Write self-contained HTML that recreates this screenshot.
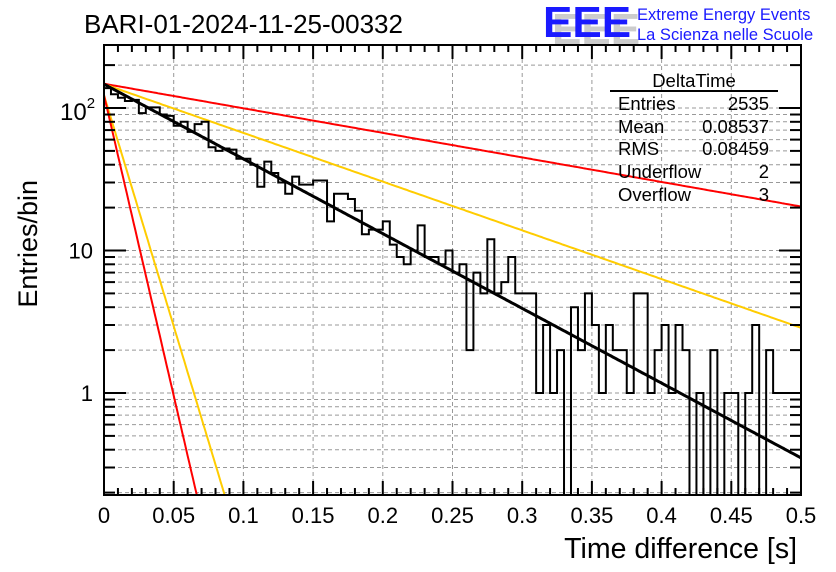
<!DOCTYPE html>
<html><head><meta charset="utf-8"><style>
body{margin:0;background:#fff;}
svg{display:block;font-family:"Liberation Sans",sans-serif;}
</style></head><body>
<svg id="c" width="836" height="572">
<text x="84" y="33" font-size="26">BARI-01-2024-11-25-00332</text>
<g>
<text x="548" y="41" font-size="44" fill="#ccc" font-weight="bold" transform="translate(4,3)">EEE</text>
<text x="543" y="37" font-size="44" fill="#1a1aff" font-weight="bold">EEE</text>
<text x="637" y="20" font-size="16.5" fill="#1a1aff">Extreme Energy Events</text>
<text x="637" y="40" font-size="16.5" fill="#1a1aff">La Scienza nelle Scuole</text>
</g>
<g id="grid"></g>
<g id="curves"></g>
<g id="ticks"></g>
<rect x="104" y="45" width="697" height="450" fill="none" stroke="#000" stroke-width="2"/>
<g font-size="18.5">
<text x="694" y="87" text-anchor="middle">DeltaTime</text>
<line x1="610" y1="91" x2="778" y2="91" stroke="#000" stroke-width="2"/>
<text x="618" y="110">Entries</text><text x="769" y="110" text-anchor="end">2535</text>
<text x="618" y="133">Mean</text><text x="769" y="133" text-anchor="end">0.08537</text>
<text x="618" y="155">RMS</text><text x="769" y="155" text-anchor="end">0.08459</text>
<text x="618" y="178">Underflow</text><text x="769" y="178" text-anchor="end">2</text>
<text x="618" y="201">Overflow</text><text x="769" y="201" text-anchor="end">3</text>
</g>
<text x="797" y="558" font-size="28.5" text-anchor="end">Time difference [s]</text>
<text transform="translate(37,180) rotate(-90)" font-size="27" text-anchor="end">Entries/bin</text>
</svg>
<script>
const counts=[138,125,118,112,114,92,101,101,90,88,75,80,68,77,80,53,50,52,51,44,44,40,28,42,35,30,25,33,29,29,31,31,16,25,
25,23,19,13,14,14,16,11,9,8,10,15,9,9,8,10,7,8,2,7,5,12,5,6,9,5,5,5,1,3,1,2,0,
4,2,5,3,1,3,2,2,1,5,5,1,2,3,1,3,2,0,1,0,2,0,1,1,0,1,3,0,2,1,1,1,1];
const fitAmps=[147,148,147,123,123];
const fitTaus=[0.0828,0.252,0.127,0.0103,0.0134];
const fitColors=['#000','#f00','#fc0','#f00','#fc0'];
const xTicks=[0,0.05,0.1,0.15,0.2,0.25,0.3,0.35,0.4,0.45,0.5];
const xTickLabels=['0','0.05','0.1','0.15','0.2','0.25','0.3','0.35','0.4','0.45','0.5'];
const X0=104,X1=801,Y0=45,Y1=495;
const xs=v=>X0+(v/0.5)*(X1-X0);
const ys=v=>v<=0?Y1+5:393-142.5*Math.log10(v);
const NS='http://www.w3.org/2000/svg';
const svg=document.getElementById('c');
function mk(t,a,p){const e=document.createElementNS(NS,t);for(const k in a)e.setAttribute(k,a[k]);(p||svg).appendChild(e);return e;}
const grid=document.getElementById('grid'),ticks=document.getElementById('ticks');
xTicks.forEach((t,i)=>{
 const x=xs(t);
 if(i>0&&i<xTicks.length-1){const l=mk('line',{x1:x,y1:Y0,x2:x,y2:Y1,stroke:'#999','stroke-dasharray':'4,3'},grid);
 }
 const tk=mk('line',{x1:x,y1:Y1,x2:x,y2:Y1-14,stroke:'#000','stroke-width':2},ticks);
 
 const tl=mk('text',{x:x,y:523,'font-size':22,'text-anchor':'middle'});tl.textContent=xTickLabels[i];
 
 if(i<xTicks.length-1)for(let m=1;m<5;m++){const xm=xs(t+m*0.01);
  mk('line',{x1:xm,y1:Y1,x2:xm,y2:Y1-7,stroke:'#000','stroke-width':2},ticks);
  mk('line',{x1:xm,y1:Y0,x2:xm,y2:Y0+7,stroke:'#000','stroke-width':2},ticks);}
 mk('line',{x1:x,y1:Y0,x2:x,y2:Y0+14,stroke:'#000','stroke-width':2},ticks);
});
for(let d=-1;d<=2;d++)for(let m=1;m<10;m++){
 const v=m*Math.pow(10,d);const y=ys(v);if(y<Y0||y>Y1)continue;
 const gl=mk('line',{x1:X0,y1:y,x2:X1,y2:y,stroke:'#999','stroke-dasharray':'4,3'},grid);
 
 const L=m===1?22:11;
 mk('line',{x1:X0,y1:y,x2:X0+L,y2:y,stroke:'#000','stroke-width':2},ticks);
 mk('line',{x1:X1,y1:y,x2:X1-L,y2:y,stroke:'#000','stroke-width':2},ticks);
}
[['1',1],['10',10]].forEach(([s,v])=>{const t=mk('text',{x:93,y:ys(v)+8,'font-size':22,'text-anchor':'end'});t.textContent=s;
 });
const t2=mk('text',{x:60,y:ys(100)+12,'font-size':24});t2.innerHTML='10<tspan font-size="15" dy="-12">2</tspan>';

const defs=mk('defs',{});const cp=mk('clipPath',{id:'pc'},defs);mk('rect',{x:X0,y:Y0,width:X1-X0,height:Y1-Y0},cp);
let d='M'+X0+','+Y1;const bw=0.5/counts.length;
counts.forEach((c,i)=>{const y=ys(c);d+=' L'+xs(i*bw)+','+y+' L'+xs((i+1)*bw)+','+y;});
d+=' L'+X1+','+Y1;
const h=mk('path',{d:d,fill:'none',stroke:'#000','stroke-width':2,'clip-path':'url(#pc)'});

const cg=document.getElementById('curves');cg.setAttribute('clip-path','url(#pc)');
[1,2,4,3,0].forEach(k=>{let p='';for(let j=0;j<=400;j++){const x=j/400*0.5;const v=fitAmps[k]*Math.exp(-x/fitTaus[k]);let y=ys(v);if(y>Y1+20)y=Y1+20;p+=(j?' L':'M')+xs(x).toFixed(1)+','+y.toFixed(1);}
 const e=mk('path',{d:p,fill:'none',stroke:fitColors[k],'stroke-width':k===0?3:2},cg);
 });
</script>
</body></html>
